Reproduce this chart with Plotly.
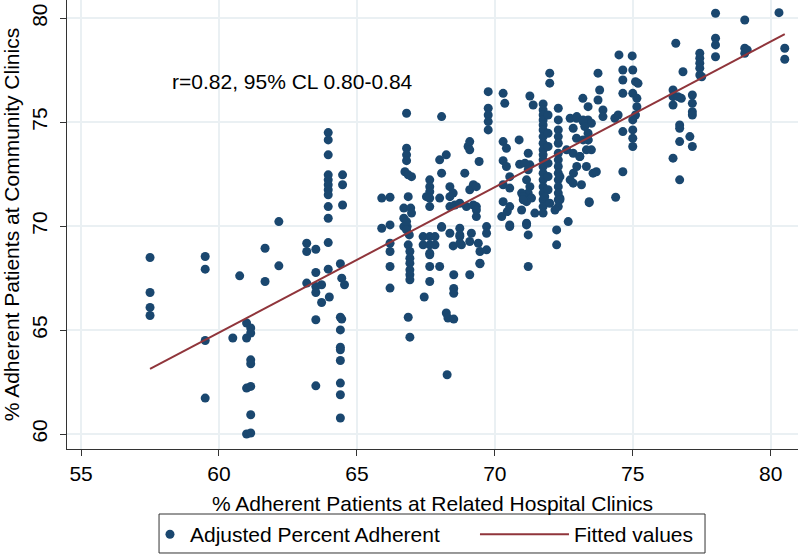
import plotly.graph_objects as go

# ---------------- data ----------------
# % adherent at related hospital clinics (x) and at community clinics (y)
hosp_left = [57.5, 57.5, 57.5, 57.5, 59.5, 59.5, 59.5, 59.5, 60.5, 60.75,
             61.0, 61.0, 61.0, 61.0, 61.15, 61.15, 61.15, 61.15, 61.15, 61.15, 61.15,
             61.67, 61.67, 62.17, 62.17, 63.18, 63.18, 63.18,
             63.51, 63.51, 63.51, 63.51, 63.51, 63.51, 63.72, 63.72, 64.0,
             63.96, 63.96, 63.96, 63.96, 63.96, 63.96, 63.96, 63.96, 63.96, 63.96, 63.96, 63.96,
             64.48, 64.48, 64.48, 64.40, 64.45, 64.55,
             64.40, 64.45, 64.40, 64.40, 64.40, 64.40, 64.40, 64.40, 64.40]
comm_left = [68.49, 66.81, 66.09, 65.70, 68.54, 67.93, 64.50, 61.73, 64.62, 67.61,
             65.34, 64.62, 62.21, 60.00, 65.10, 64.86, 63.57, 63.38, 62.29, 60.93, 60.05,
             68.94, 67.34, 70.22, 68.09, 69.18, 68.78, 67.26,
             68.89, 67.77, 67.10, 66.81, 65.50, 62.32, 67.18, 66.33, 66.59,
             74.50, 74.15, 73.43, 72.47, 72.23, 71.99, 71.75, 71.51, 70.94, 70.38, 69.21, 67.93,
             72.47, 71.99, 71.02, 68.19, 67.50, 67.18,
             65.62, 65.53, 65.01, 64.18, 64.05, 63.54, 62.45, 61.89, 60.77]

hosp_mid = [65.9, 65.9, 66.2, 66.2, 66.2, 66.2, 66.2, 66.2,
            66.8, 66.8, 66.8, 66.8, 66.74, 66.98, 66.86, 66.86, 66.7, 66.95, 66.7, 66.98,
            66.7, 66.82, 66.8, 66.8, 66.9, 66.86, 66.92, 66.92, 66.92, 66.92, 66.92, 66.92,
            66.86, 66.92,
            67.52, 67.64, 67.64, 67.64, 67.64, 67.64,
            67.40, 67.64, 67.83, 67.40, 67.64, 67.83, 67.64, 67.64,
            67.64, 68.0, 67.64, 67.44,
            68.0, 68.24, 68.07, 68.07,
            68.0, 68.37, 68.37, 68.49, 68.37, 68.55, 68.07, 68.07,
            68.37, 68.73, 68.73, 68.49, 68.79, 68.73, 68.73,
            68.51, 68.51, 68.51, 68.24, 68.30, 68.51, 68.27,
            68.91, 69.03, 69.09, 69.09, 69.43,
            69.22, 69.09, 69.33, 68.73, 68.97, 69.22, 69.33, 69.33, 69.33,
            69.15, 69.09, 69.40, 69.46, 69.7, 69.7, 69.7, 69.46, 69.09, 69.46,
            69.76, 69.76, 69.76, 69.76, 69.76,
            70.3, 70.36, 70.3, 70.42, 70.3, 70.42,
            70.88, 70.9, 71.27,
            70.54, 70.3, 70.54, 71.15, 71.27, 71.21, 70.97, 71.03, 71.33, 71.15,
            70.3, 70.54, 70.25, 70.45, 70.54,
            70.97, 71.15, 71.21, 71.45,
            71.27, 71.39, 71.21, 71.09, 71.21, 71.03,
            71.15, 71.21, 70.54, 71.99, 71.99]
comm_mid = [71.35, 69.90, 71.39, 70.06, 69.18, 68.78, 68.06, 67.02,
            75.43, 73.75, 73.43, 73.15, 72.62, 72.38, 72.47, 71.42, 70.87, 70.87, 70.38, 70.63,
            69.98, 69.98, 70.22, 69.82, 69.58, 69.10, 68.78, 68.46, 68.22, 67.90, 67.66, 67.42,
            65.62, 64.66,
            71.42, 72.23, 71.90, 71.66, 71.35, 70.94,
            69.50, 69.50, 69.50, 69.10, 69.10, 69.10, 68.70, 68.62,
            68.06, 68.06, 67.34, 66.59,
            73.19, 73.43, 72.55, 75.27,
            71.35, 71.90, 71.42, 71.59, 70.94, 71.02, 69.98, 69.95,
            69.66, 69.90, 69.58, 69.05, 69.10, 69.50, 69.18,
            67.66, 67.00, 66.77, 65.82, 65.58, 65.53, 62.85,
            72.55, 73.83, 74.07, 73.67, 73.11,
            71.99, 71.75, 71.90, 71.10, 70.94, 71.02, 70.94, 70.46, 70.78,
            69.66, 69.26, 69.18, 68.78, 69.98, 69.66, 68.86, 68.22, 67.66, 68.19,
            76.47, 75.67, 75.35, 75.03, 74.63,
            76.39, 75.91, 74.07, 73.75, 73.15, 72.87,
            74.15, 72.98, 72.95,
            72.38, 71.99, 71.83, 72.23, 71.90, 71.59, 71.59, 71.42, 71.35, 71.18,
            71.18, 70.94, 70.46, 70.70, 70.06,
            70.78, 70.14, 69.58, 70.63,
            76.26, 75.83, 73.51, 73.03, 72.71, 71.27,
            70.06, 68.06, 69.98, 77.36, 76.88]

hosp_dense = [71.75, 71.75, 71.75, 71.75, 71.75, 71.75, 71.75, 71.75, 71.75, 71.75,
              71.75, 71.75, 71.75, 71.75, 71.75, 71.75, 71.75, 71.75, 71.75,
              71.93, 71.93, 71.93, 71.93, 71.93, 71.93,
              72.3, 72.3, 72.3, 72.3, 72.3, 72.3, 72.3, 72.3, 72.3, 72.3, 72.3, 72.3, 72.3, 72.3,
              72.66, 72.24, 72.24, 72.36, 71.81, 71.99, 72.18,
              72.96, 73.2, 73.38, 73.5, 72.84, 72.96, 73.2, 73.38, 73.5, 73.08, 72.84, 72.6,
              73.32, 73.56, 73.14, 72.84, 72.36, 72.36, 73.42,
              72.73, 72.97, 73.2, 73.26, 73.38, 73.38, 73.32, 73.08, 72.97, 72.85, 72.73]
comm_dense = [75.88, 75.59, 75.35, 75.11, 74.87, 74.63, 74.31, 73.99, 73.67, 73.43,
              73.19, 72.87, 72.55, 72.23, 71.90, 71.59, 71.27, 70.94, 70.63,
              75.35, 74.47, 73.83, 73.03, 72.39, 71.75,
              75.67, 75.11, 74.63, 74.31, 73.99, 73.51, 73.19, 72.87, 72.55, 72.23, 71.90, 71.59, 71.27, 70.94,
              70.22, 69.82, 69.10, 71.35, 71.42, 71.10, 70.78,
              75.19, 75.03, 75.11, 74.95, 74.71, 74.23, 74.15, 74.15, 73.67, 73.35, 73.51, 73.67,
              72.87, 72.55, 71.99, 72.07, 72.38, 71.27, 71.13,
              75.19, 75.27, 75.11, 74.79, 74.47, 74.15, 73.67, 73.35, 72.87, 72.55, 72.23]

hosp_right = [73.19, 73.38, 73.74, 73.74, 73.8, 73.92, 73.92,
              73.42, 73.68, 74.35, 74.47, 74.5, 74.98,
              74.64, 74.64, 74.64, 74.64, 74.64,
              75.0, 75.1, 75.19, 75.0, 75.15, 75.15, 75.1, 75.0, 75.0, 75.0, 75.0, 74.38,
              76.46, 76.46, 76.46, 76.64, 76.76, 76.46, 76.56, 76.82,
              76.7, 76.7, 77.07, 76.7, 76.7,
              77.16, 77.16, 77.16, 77.16, 77.16,
              77.43, 77.43, 77.43, 77.43, 77.43, 77.5,
              78.0, 78.0, 78.0, 78.0, 79.06, 79.06, 79.06, 79.15,
              80.3, 80.51, 80.51]
comm_right = [76.15, 75.75, 77.36, 76.07, 76.55, 75.59, 75.27,
              71.18, 72.62, 75.19, 75.35, 78.24, 78.19,
              77.51, 77.03, 76.39, 74.55, 72.62,
              77.51, 76.95, 76.87, 76.39, 76.15, 75.75, 75.35, 75.11, 74.63, 74.23, 73.83, 71.39,
              76.55, 76.23, 75.83, 76.23, 76.15, 73.27, 78.80, 77.43,
              74.87, 74.71, 74.31, 74.07, 72.23,
              76.31, 75.91, 75.51, 75.35, 73.83,
              78.32, 78.08, 77.84, 77.60, 77.27, 77.19,
              80.24, 79.04, 78.72, 78.15, 79.92, 78.56, 78.32, 78.48,
              80.27, 78.56, 78.03]

# fitted regression line
fit_intercept = 22.88
fit_slope = 0.70

annotation_text = "r=0.82, 95% CL 0.80-0.84"
x_ticks = [55, 60, 65, 70, 75, 80]
y_ticks = [60, 65, 70, 75, 80]

# ---------------- figure ----------------
hosp = hosp_left + hosp_mid + hosp_dense + hosp_right
comm = comm_left + comm_mid + comm_dense + comm_right

x_fit = [min(hosp), max(hosp)]
y_fit = [fit_intercept + fit_slope * v for v in x_fit]

NAVY = "#1a476f"
MAROON = "#90353b"
FONT = "Liberation Sans, Arial, sans-serif"

fig = go.Figure()
fig.add_trace(go.Scatter(
    x=hosp, y=comm, mode="markers", name="Adjusted Percent Adherent",
    marker=dict(color=NAVY, size=9, line=dict(width=0)),
    legend="legend",
))
fig.add_trace(go.Scatter(
    x=x_fit, y=y_fit, mode="lines", name="Fitted values",
    line=dict(color=MAROON, width=2),
    legend="legend2",
))

fig.add_annotation(
    x=58.22, y=76.94, xref="x", yref="y", text=annotation_text,
    showarrow=False, xanchor="left", yanchor="middle",
    font=dict(family=FONT, size=21, color="black"),
)

# frame around the legend
fig.add_shape(
    type="rect", xref="paper", yref="paper",
    x0=0.1259, x1=0.8728, y0=-0.2316, y1=-0.1448,
    line=dict(color="#333333", width=1), fillcolor="rgba(0,0,0,0)",
)

axis_common = dict(
    showline=True, linecolor="#333333", linewidth=1.3,
    ticks="outside", ticklen=6, tickcolor="#333333", tickwidth=1.3,
    showgrid=True, gridcolor="#eaf0f3", gridwidth=1.5,
    zeroline=False, mirror=False, automargin=False,
    tickfont=dict(family=FONT, size=21, color="black"),
)

fig.update_xaxes(
    range=[54.49, 80.99], tickvals=x_ticks,
    title=dict(text="% Adherent Patients at Related Hospital Clinics",
               font=dict(family=FONT, size=21, color="black"), standoff=11),
    **axis_common,
)
fig.update_yaxes(
    range=[59.28, 80.88], tickvals=y_ticks, tickangle=-90,
    title=dict(text="% Adherent Patients at Community Clinics",
               font=dict(family=FONT, size=21, color="black"), standoff=3),
    ticklabelstandoff=4,
    **axis_common,
)

legend_common = dict(
    orientation="h", y=-0.145, yanchor="top", xanchor="left",
    borderwidth=0, bgcolor="rgba(0,0,0,0)",
    font=dict(family=FONT, size=21, color="black"),
)

fig.update_layout(
    width=799, height=557,
    margin=dict(l=67, r=1, t=0, b=108, autoexpand=False),
    paper_bgcolor="white", plot_bgcolor="white",
    font=dict(family=FONT, size=21, color="black"),
    showlegend=True,
    legend=dict(x=0.1135, itemwidth=30, **legend_common),
    legend2=dict(x=0.5581, itemwidth=89, **legend_common),
)

fig.write_html("out.html", config={"displayModeBar": False},
               post_script="document.body.style.margin='0';")
